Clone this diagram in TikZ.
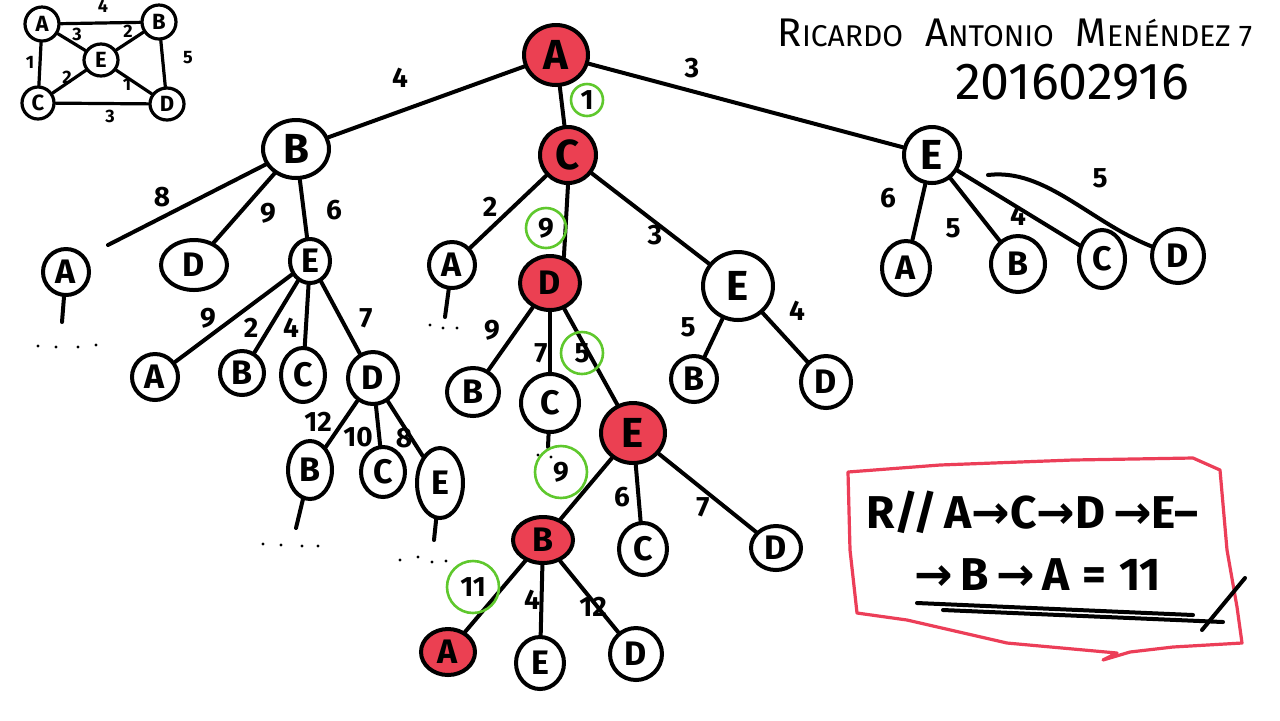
\documentclass[tikz,border=0pt]{standalone}
\usepackage{fontspec}
\setmainfont{Fira Sans}
\newfontfamily\symf{DejaVu Sans}
\usetikzlibrary{shapes.geometric}
\definecolor{scrib}{RGB}{232,30,52}
\definecolor{grn}{RGB}{95,200,45}
\definecolor{boxred}{RGB}{236,62,88}
\newcommand\Tcap[1]{{\fontsize{20}{20}\selectfont #1}}
\tikzset{
  sz/.style 2 args={minimum width=#1pt, minimum height=#2pt},
  ln/.style={line width=2pt, line cap=round, line join=round},
  sln/.style={line width=1.6pt, line cap=round},
  nd/.style={draw, ellipse, line width=2pt, inner sep=0pt, font=\fontsize{17}{17}\selectfont\bfseries},
  bigf/.style={font=\fontsize{21}{21}\selectfont\bfseries},
  hot/.style={nd, fill=scrib!85},
  lbl/.style={inner sep=0pt, font=\fontsize{14}{14}\selectfont\bfseries},
  glbl/.style={draw=grn, circle, line width=1.3pt, inner sep=0pt, font=\fontsize{14}{14}\selectfont\bfseries},
  snd/.style={draw, ellipse, line width=1.6pt, inner sep=0pt, font=\fontsize{11}{11}\selectfont\bfseries},
  slbl/.style={inner sep=0pt, font=\fontsize{9}{9}\selectfont\bfseries},
  dot/.style={circle, fill, inner sep=0pt, minimum size=1.6pt},
}
\begin{document}
\begin{tikzpicture}[x=0.5pt,y=-0.5pt]
\useasboundingbox (0,0) rectangle (1280,720);
\fill[white] (0,0) rectangle (1280,720);

% ---- small graph ----
\node[snd, sz={17}{17}] (sA) at (42,24) {A};
\node[snd, sz={17}{17}] (sB) at (159,22) {B};
\node[snd, sz={17}{16}] (sE) at (101,60) {E};
\node[snd, sz={16}{16}] (sC) at (38,103) {C};
\node[snd, sz={17}{16}] (sD) at (167,104) {D};
\draw[sln] (sA) -- (sB);
\draw[sln] (sA) -- (sE);
\draw[sln] (sB) -- (sE);
\draw[sln] (sA) -- (sC);
\draw[sln] (sC) -- (sE);
\draw[sln] (sE) -- (sD);
\draw[sln] (sC) -- (sD);
\draw[sln] (sB) -- (sD);
\node[slbl] (s1) at (103,6) {4};
\node[slbl] (s2) at (77,34) {3};
\node[slbl] (s3) at (128,31) {2};
\node[slbl] (s4) at (30,62) {1};
\node[slbl] (s5) at (67,77) {2};
\node[slbl] (s6) at (127,84) {1};
\node[slbl] (s7) at (110,116) {3};
\node[slbl] (s8) at (188,58) {5};

% ---- title ----
\node[inner sep=0pt, font=\fontsize{15}{15}\selectfont] (name) at (1015,33)
  {\Tcap{R}ICARDO\hspace{11pt}\Tcap{A}NTONIO\hspace{11pt}\Tcap{M}ENÉNDEZ\hspace{4pt}7};
\node[inner sep=0pt, font=\fontsize{26}{26}\selectfont] (carne) at (1072,82) {201602916};

% ---- level 0/1 ----
\node[hot, sz={32}{30}, bigf] (A0) at (556,55) {A};
\node[nd, sz={33}{29}, bigf] (B1) at (296,149) {B};
\node[hot, sz={28}{28}, bigf] (C1) at (568,155) {C};
\node[nd, sz={28}{28}, bigf] (E1) at (932,155) {E};
\draw[ln] (A0) -- (B1);
\draw[ln] (A0) -- (C1);
\draw[ln] (A0) -- (E1);
\node[lbl] (l01) at (400,78) {4};
\node[glbl, minimum size=16pt] (g1) at (587,100) {1};
\node[lbl] (l02) at (692,68) {3};

% ---- B subtree ----
\node[nd, sz={23}{23}] (A2) at (66,272) {A};
\node[nd, sz={33}{25}] (D2) at (194,265) {D};
\node[nd, sz={20}{22}] (E2) at (310,261) {E};
\coordinate (cBA) at (108,245);
\draw[ln] (B1) -- (cBA);
\draw[ln] (B1) -- (D2);
\draw[ln] (B1) -- (E2);
\node[lbl] (l11) at (162,197) {8};
\node[lbl] (l12) at (268,213) {9};
\node[lbl] (l13) at (334,210) {6};
\coordinate (cA2) at (62,322);
\draw[ln] (A2) -- (cA2);
\foreach \i/\x/\y in {1/38/346,2/56/347,3/78/347,4/96/345} \node[dot] (dA2\i) at (\x,\y) {};

\node[nd, sz={23}{23}] (A3) at (155,377) {A};
\node[nd, sz={22}{22}] (B3) at (242,373) {B};
\node[nd, sz={22}{27}] (C3) at (303,375) {C};
\node[nd, sz={25}{26}] (D3) at (373,378) {D};
\draw[ln] (E2) -- (A3);
\draw[ln] (E2) -- (B3);
\draw[ln] (E2) -- (C3);
\draw[ln] (E2) -- (D3);
\node[lbl] (l21) at (208,318) {9};
\node[lbl] (l22) at (251,328) {2};
\node[lbl] (l23) at (291,328) {4};
\node[lbl] (l24) at (366,318) {7};

\node[nd, sz={22}{29}] (B4) at (310,470) {B};
\node[nd, sz={22}{25}] (C4) at (383,472) {C};
\node[nd, sz={23}{35}] (E4) at (440,483) {E};
\draw[ln] (D3) -- (B4);
\draw[ln] (D3) -- (C4);
\draw[ln] (D3) -- (E4);
\node[lbl] (l31) at (318,422) {12};
\node[lbl] (l32) at (358,437) {10};
\node[lbl] (l33) at (404,438) {8};
\coordinate (cB4) at (296,528);
\coordinate (cE4) at (434,540);
\draw[ln] (B4) -- (cB4);
\draw[ln] (E4) -- (cE4);
\foreach \i/\x/\y in {1/263/544,2/281/545,3/302/546,4/318/546} \node[dot] (dB4\i) at (\x,\y) {};
\foreach \i/\x/\y in {1/400/560,2/418/557,3/432/562,4/446/561} \node[dot] (dE4\i) at (\x,\y) {};

% ---- C subtree ----
\node[nd, sz={23}{23}] (A5) at (452,265) {A};
\node[hot, sz={30}{27}] (D5) at (550,283) {D};
\node[nd, sz={35}{34}, bigf] (E5) at (738,286) {E};
\draw[ln] (C1) -- (A5);
\draw[ln] (C1.south) -- (D5.62);
\draw[ln] (C1) -- (E5);
\node[lbl] (l41) at (490,207) {2};
\node[glbl, minimum size=20pt] (g2) at (546,228) {9};
\node[lbl] (l42) at (655,235) {3};
\coordinate (cA5) at (445,317);
\draw[ln] (A5) -- (cA5);
\foreach \i/\x/\y in {1/430/325,2/443/328,3/457/328} \node[dot] (dA5\i) at (\x,\y) {};

\node[nd, sz={26}{24}] (B6) at (473,392) {B};
\node[nd, sz={29}{29}] (C6) at (550,403) {C};
\node[hot, sz={32}{30}, bigf] (E6) at (633,433) {E};
\draw[ln] (D5) -- (B6);
\draw[ln] (D5) -- (C6);
\draw[ln] (D5) -- (E6);
\node[lbl] (l51) at (492,330) {9};
\node[lbl] (l52) at (541,353) {7};
\node[glbl, minimum size=21pt] (g3) at (582,353) {5};
\coordinate (cC6) at (548,447);
\draw[ln] (C6) -- (cC6);
\foreach \i/\x/\y in {1/538/455,2/551/457} \node[dot] (dC6\i) at (\x,\y) {};
\node[glbl, minimum size=26pt] (g4) at (561,472) {9};

\node[hot, sz={30}{23}] (B7) at (543,540) {B};
\node[nd, sz={24}{26}] (C7) at (643,549) {C};
\node[nd, sz={25}{22}] (D7) at (776,548) {D};
\draw[ln] (E6) -- (B7);
\draw[ln] (E6) -- (C7);
\draw[ln] (E6) -- (D7);
\node[lbl] (l61) at (622,497) {6};
\node[lbl] (l62) at (703,507) {7};

\node[hot, sz={27}{23}] (A8) at (448,652) {A};
\node[nd, sz={24}{26}] (E8) at (540,663) {E};
\node[nd, sz={26}{26}] (D8) at (636,654) {D};
\draw[ln] (B7) -- (A8);
\draw[ln] (B7) -- (E8);
\draw[ln] (B7) -- (D8);
\node[glbl, minimum size=26pt] (g5) at (473,587) {11};
\node[lbl] (l71) at (532,600) {4};
\node[lbl] (l72) at (593,607) {12};

\node[nd, sz={23}{23}] (B10) at (694,379) {B};
\node[nd, sz={25}{26}] (D10) at (826,382) {D};
\draw[ln] (E5) -- (B10);
\draw[ln] (E5) -- (D10);
\node[lbl] (l81) at (688,327) {5};
\node[lbl] (l82) at (797,311) {4};

% ---- E subtree ----
\node[nd, sz={24}{27}] (A9) at (906,268) {A};
\node[nd, sz={27}{28}] (B9) at (1018,264) {B};
\node[nd, sz={23}{29}] (C9) at (1102,259) {C};
\node[nd, sz={26}{27}] (D9) at (1178,256) {D};
\draw[ln] (E1) -- (A9);
\draw[ln] (E1) -- (B9);
\draw[ln] (E1) -- (C9);
\coordinate (cE1D) at (988,175);
\draw[ln] (cE1D) .. controls (1045,168) and (1090,222) .. (D9.160);
\node[lbl] (l91) at (888,198) {6};
\node[lbl] (l92) at (953,228) {5};
\node[lbl] (l93) at (1018,216) {4};
\node[lbl] (l94) at (1100,178) {5};

% ---- answer box ----
\draw[boxred, line width=1.6pt, line join=round]
  (848,472) -- (940,465) -- (1073,460) -- (1193,458) -- (1220,470) -- (1227,550)
  -- (1237,607) -- (1242,643) -- (1173,647) -- (1130,652) -- (1103,660)
  -- (1117,653) -- (1007,643) -- (907,620) -- (857,613) -- (850,550) -- cycle;
\node[inner sep=0pt, anchor=west, font=\fontsize{23}{23}\selectfont\bfseries] (ans1) at (866,512)
  {R//\,A{\symf→}C{\symf→}D\,{\symf→}E–};
\node[inner sep=0pt, anchor=west, font=\fontsize{23}{23}\selectfont\bfseries] (ans2) at (914,575)
  {{\symf→}\,B\,{\symf→}\,A\;=\;11};
\draw[ln] (917,603) -- (1193,615);
\draw[ln] (943,610) -- (1223,622);
\draw[ln] (1245,578) -- (1202,630);
\end{tikzpicture}
\end{document}
